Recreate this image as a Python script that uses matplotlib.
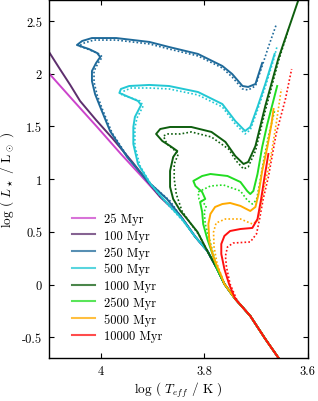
import numpy as np
import matplotlib
matplotlib.use("Agg")
import matplotlib.pyplot as plt
from matplotlib.ticker import FuncFormatter

plt.rcParams['font.family'] = 'serif'
plt.rcParams['font.serif'] = ['cmr10']
plt.rcParams['mathtext.fontset'] = 'cm'
plt.rcParams['axes.unicode_minus'] = False
plt.rcParams['axes.formatter.use_mathtext'] = True

# shared lower main sequence (bottom -> top)
ms_T = [3.647, 3.682, 3.711, 3.740, 3.761, 3.775, 3.794, 3.817, 3.846, 3.885, 3.920, 3.961, 4.007, 4.054, 4.104]
ms_L = [-0.763, -0.516, -0.298, -0.137, 0.005, 0.148, 0.319, 0.451, 0.651, 0.831, 1.021, 1.239, 1.495, 1.751, 2.026]

ages = ['25 Myr', '100 Myr', '250 Myr', '500 Myr', '1000 Myr', '2500 Myr', '5000 Myr', '10000 Myr']
colors = ['#cc44cc', '#5e2f6e', '#1f6a9a', '#22c8d4', '#0e5e0e', '#22dd22', '#ffaa00', '#ff1010']

# solid isochrones: part above the shared main sequence
cut_solid = [9.0, 0.84, 0.66, 0.46, 0.33, 0.15, 0.01, -0.13]
up_T = [
    [],
    [3.904, 3.939, 3.978, 4.009, 4.040, 4.059, 4.079, 4.100, 4.108],
    [3.872, 3.910, 3.949, 3.982, 4.001, 4.011, 4.017, 4.017, 4.009, 4.001, 4.007, 4.023, 4.046, 4.036,
     4.017, 3.970, 3.906, 3.868, 3.812, 3.765, 3.746, 3.726, 3.715, 3.701, 3.688],
    [3.843, 3.879, 3.904, 3.928, 3.937, 3.937, 3.934, 3.922, 3.928, 3.964, 3.961, 3.945, 3.906, 3.868,
     3.812, 3.765, 3.740, 3.721, 3.711, 3.697, 3.682, 3.664],
    [3.813, 3.833, 3.846, 3.860, 3.866, 3.866, 3.860, 3.852, 3.866, 3.881, 3.893, 3.885, 3.866, 3.846,
     3.825, 3.786, 3.759, 3.740, 3.724, 3.715, 3.701, 3.682, 3.657, 3.618, 3.616],
    [3.784, 3.794, 3.802, 3.804, 3.808, 3.798, 3.804, 3.817, 3.821, 3.804, 3.788, 3.755, 3.730, 3.717,
     3.711, 3.705, 3.697, 3.688, 3.678, 3.668, 3.659],
    [3.767, 3.781, 3.790, 3.792, 3.788, 3.779, 3.765, 3.750, 3.730, 3.711, 3.701, 3.695, 3.688, 3.678,
     3.670, 3.666],
    [3.752, 3.761, 3.767, 3.767, 3.761, 3.750, 3.730, 3.707, 3.697, 3.690, 3.684, 3.676],
]
up_L = [
    [],
    [0.945, 1.163, 1.391, 1.561, 1.742, 1.894, 2.045, 2.207, 2.264],
    [0.812, 0.983, 1.210, 1.457, 1.685, 1.808, 1.931, 2.026, 2.102, 2.159, 2.197, 2.235, 2.273, 2.311,
     2.339, 2.339, 2.302, 2.254, 2.188, 2.074, 1.998, 1.884, 1.875, 1.903, 2.102],
    [0.622, 0.812, 0.954, 1.144, 1.334, 1.495, 1.590, 1.704, 1.742, 1.818, 1.856, 1.884, 1.894, 1.884,
     1.827, 1.713, 1.552, 1.457, 1.495, 1.685, 1.903, 2.188],
    [0.499, 0.622, 0.698, 0.812, 0.926, 1.078, 1.210, 1.267, 1.315, 1.362, 1.429, 1.476, 1.495, 1.495,
     1.495, 1.448, 1.353, 1.220, 1.144, 1.163, 1.315, 1.694, 2.140, 2.700, 2.728],
    [0.290, 0.432, 0.575, 0.689, 0.783, 0.812, 0.878, 0.935, 0.983, 1.030, 1.049, 1.030, 0.973, 0.888,
     0.859, 0.888, 1.049, 1.305, 1.523, 1.713, 1.884],
    [0.082, 0.243, 0.404, 0.575, 0.670, 0.736, 0.764, 0.774, 0.746, 0.698, 0.736, 0.859, 1.078, 1.305,
     1.523, 1.666],
    [0.005, 0.148, 0.290, 0.385, 0.461, 0.508, 0.527, 0.537, 0.622, 0.812, 1.002, 1.239],
]

# dotted (second model set)
cut_dot = [None, None, 0.66, 0.46, 0.33, 0.15, 0.01, -0.14]
dot_T = [
    [], [],
    [3.866, 3.906, 3.945, 3.978, 3.997, 4.007, 4.013, 4.013, 4.005, 3.997, 4.003, 4.021, 4.042, 4.032,
     4.013, 3.970, 3.906, 3.868, 3.812, 3.765, 3.746, 3.726, 3.715, 3.701, 3.688, 3.676, 3.661],
    [3.841, 3.875, 3.901, 3.924, 3.934, 3.934, 3.930, 3.918, 3.924, 3.959, 3.955, 3.941, 3.906, 3.868,
     3.812, 3.765, 3.740, 3.721, 3.711, 3.697, 3.682, 3.666, 3.659],
    [3.810, 3.827, 3.843, 3.854, 3.858, 3.858, 3.850, 3.860, 3.872, 3.879, 3.870, 3.846, 3.825, 3.786,
     3.753, 3.738, 3.724, 3.715, 3.701, 3.682, 3.657, 3.637],
    [3.781, 3.790, 3.798, 3.800, 3.796, 3.810, 3.812, 3.788, 3.763, 3.730, 3.717, 3.707, 3.699, 3.693,
     3.684, 3.674, 3.664],
    [3.763, 3.775, 3.781, 3.782, 3.777, 3.759, 3.730, 3.707, 3.697, 3.692, 3.684, 3.672, 3.661, 3.651],
    [3.736, 3.750, 3.757, 3.759, 3.755, 3.744, 3.711, 3.699, 3.693, 3.686, 3.676, 3.661, 3.643, 3.631],
]
dot_L = [
    [], [],
    [0.793, 0.964, 1.191, 1.438, 1.666, 1.799, 1.922, 2.026, 2.102, 2.159, 2.188, 2.226, 2.264, 2.292,
     2.320, 2.320, 2.283, 2.235, 2.169, 2.055, 1.969, 1.856, 1.846, 1.884, 2.074, 2.254, 2.463],
    [0.603, 0.783, 0.935, 1.125, 1.315, 1.486, 1.580, 1.694, 1.742, 1.799, 1.837, 1.865, 1.865, 1.856,
     1.799, 1.685, 1.523, 1.429, 1.467, 1.656, 1.875, 2.131, 2.264],
    [0.470, 0.584, 0.698, 0.859, 1.002, 1.144, 1.239, 1.286, 1.334, 1.410, 1.429, 1.429, 1.448, 1.400,
     1.286, 1.172, 1.097, 1.116, 1.267, 1.647, 2.112, 2.425],
    [0.262, 0.432, 0.575, 0.689, 0.746, 0.812, 0.878, 0.935, 0.945, 0.888, 0.802, 0.764, 0.802, 0.954,
     1.210, 1.448, 1.647],
    [0.034, 0.195, 0.357, 0.499, 0.584, 0.622, 0.622, 0.575, 0.603, 0.717, 0.926, 1.191, 1.523, 1.856],
    [-0.156, 0.005, 0.167, 0.271, 0.357, 0.394, 0.404, 0.480, 0.622, 0.812, 1.021, 1.429, 1.761, 2.045],
]


def join_ms(T, L, cut):
    keep = [i for i in range(len(ms_L)) if ms_L[i] < cut]
    return [ms_T[i] for i in keep] + T, [ms_L[i] for i in keep] + L


fig = plt.figure(figsize=(3.18, 4.02), dpi=100)
ax = fig.add_axes([0.1541, 0.1062, 0.8135, 0.8913])

for i in range(len(ages)):
    if cut_dot[i] is not None:
        x, y = join_ms(dot_T[i], dot_L[i], cut_dot[i])
        ax.plot(x, y, color=colors[i], lw=1.2, linestyle=(0, (1, 1.3)))
    x, y = join_ms(up_T[i], up_L[i], cut_solid[i])
    ax.plot(x, y, color=colors[i], lw=1.4, label=ages[i])

ax.set_xlim(4.1, 3.6)
ax.set_ylim(-0.7, 2.7)
ax.set_xticks([4.0, 3.8, 3.6])
ax.set_yticks([-0.5, 0, 0.5, 1, 1.5, 2, 2.5])
fmt = FuncFormatter(lambda v, p: '%g' % v)
ax.xaxis.set_major_formatter(fmt)
ax.yaxis.set_major_formatter(fmt)
ax.tick_params(direction='in', top=True, right=True, length=3.5, width=0.8, labelsize=9, pad=5)
for s in ax.spines.values():
    s.set_linewidth(1.0)

ax.set_xlabel(r'log ( $T_{eff}$ / K )', fontsize=9.5, labelpad=2)
ax.set_ylabel(r'log ( $L_\star$ / L$_\odot$ )', fontsize=9.5, labelpad=4)


def make_legend(ls, bx, by):
    lg = ax.legend(loc='lower left', bbox_to_anchor=(bx, by), frameon=False, fontsize=9,
                   handlelength=1.9, handletextpad=0.7, labelspacing=ls, borderaxespad=0)
    for h in lg.get_lines():
        h.set_alpha(0.75)
        h.set_linewidth(1.5)
    return lg


# fit the legend rows to the reference: 16.7 px apart, last row at y=337, text from x=104
fs_px = 9 * 100 / 72
ls, bx, by = 0.5, 0.08, 0.03
leg = make_legend(ls, bx, by)
r = fig.canvas.get_renderer()
fig.canvas.draw()
ext = [t.get_window_extent(r) for t in leg.get_texts()]
gap = ((ext[0].y0 + ext[0].y1) - (ext[-1].y0 + ext[-1].y1)) / 2 / 7
ls = ls + (16.7 - gap) / fs_px
leg.remove()
leg = make_legend(ls, bx, by)
fig.canvas.draw()
e = leg.get_texts()[-1].get_window_extent(r)
ax_w = 0.8135 * 318
ax_h = 0.8913 * 402
by = by + ((402 - 337) - (e.y0 + e.y1) / 2) / ax_h
bx = bx + (104 - e.x0) / ax_w
leg.remove()
leg = make_legend(ls, bx, by)

fig.savefig('out.png', dpi=100)
